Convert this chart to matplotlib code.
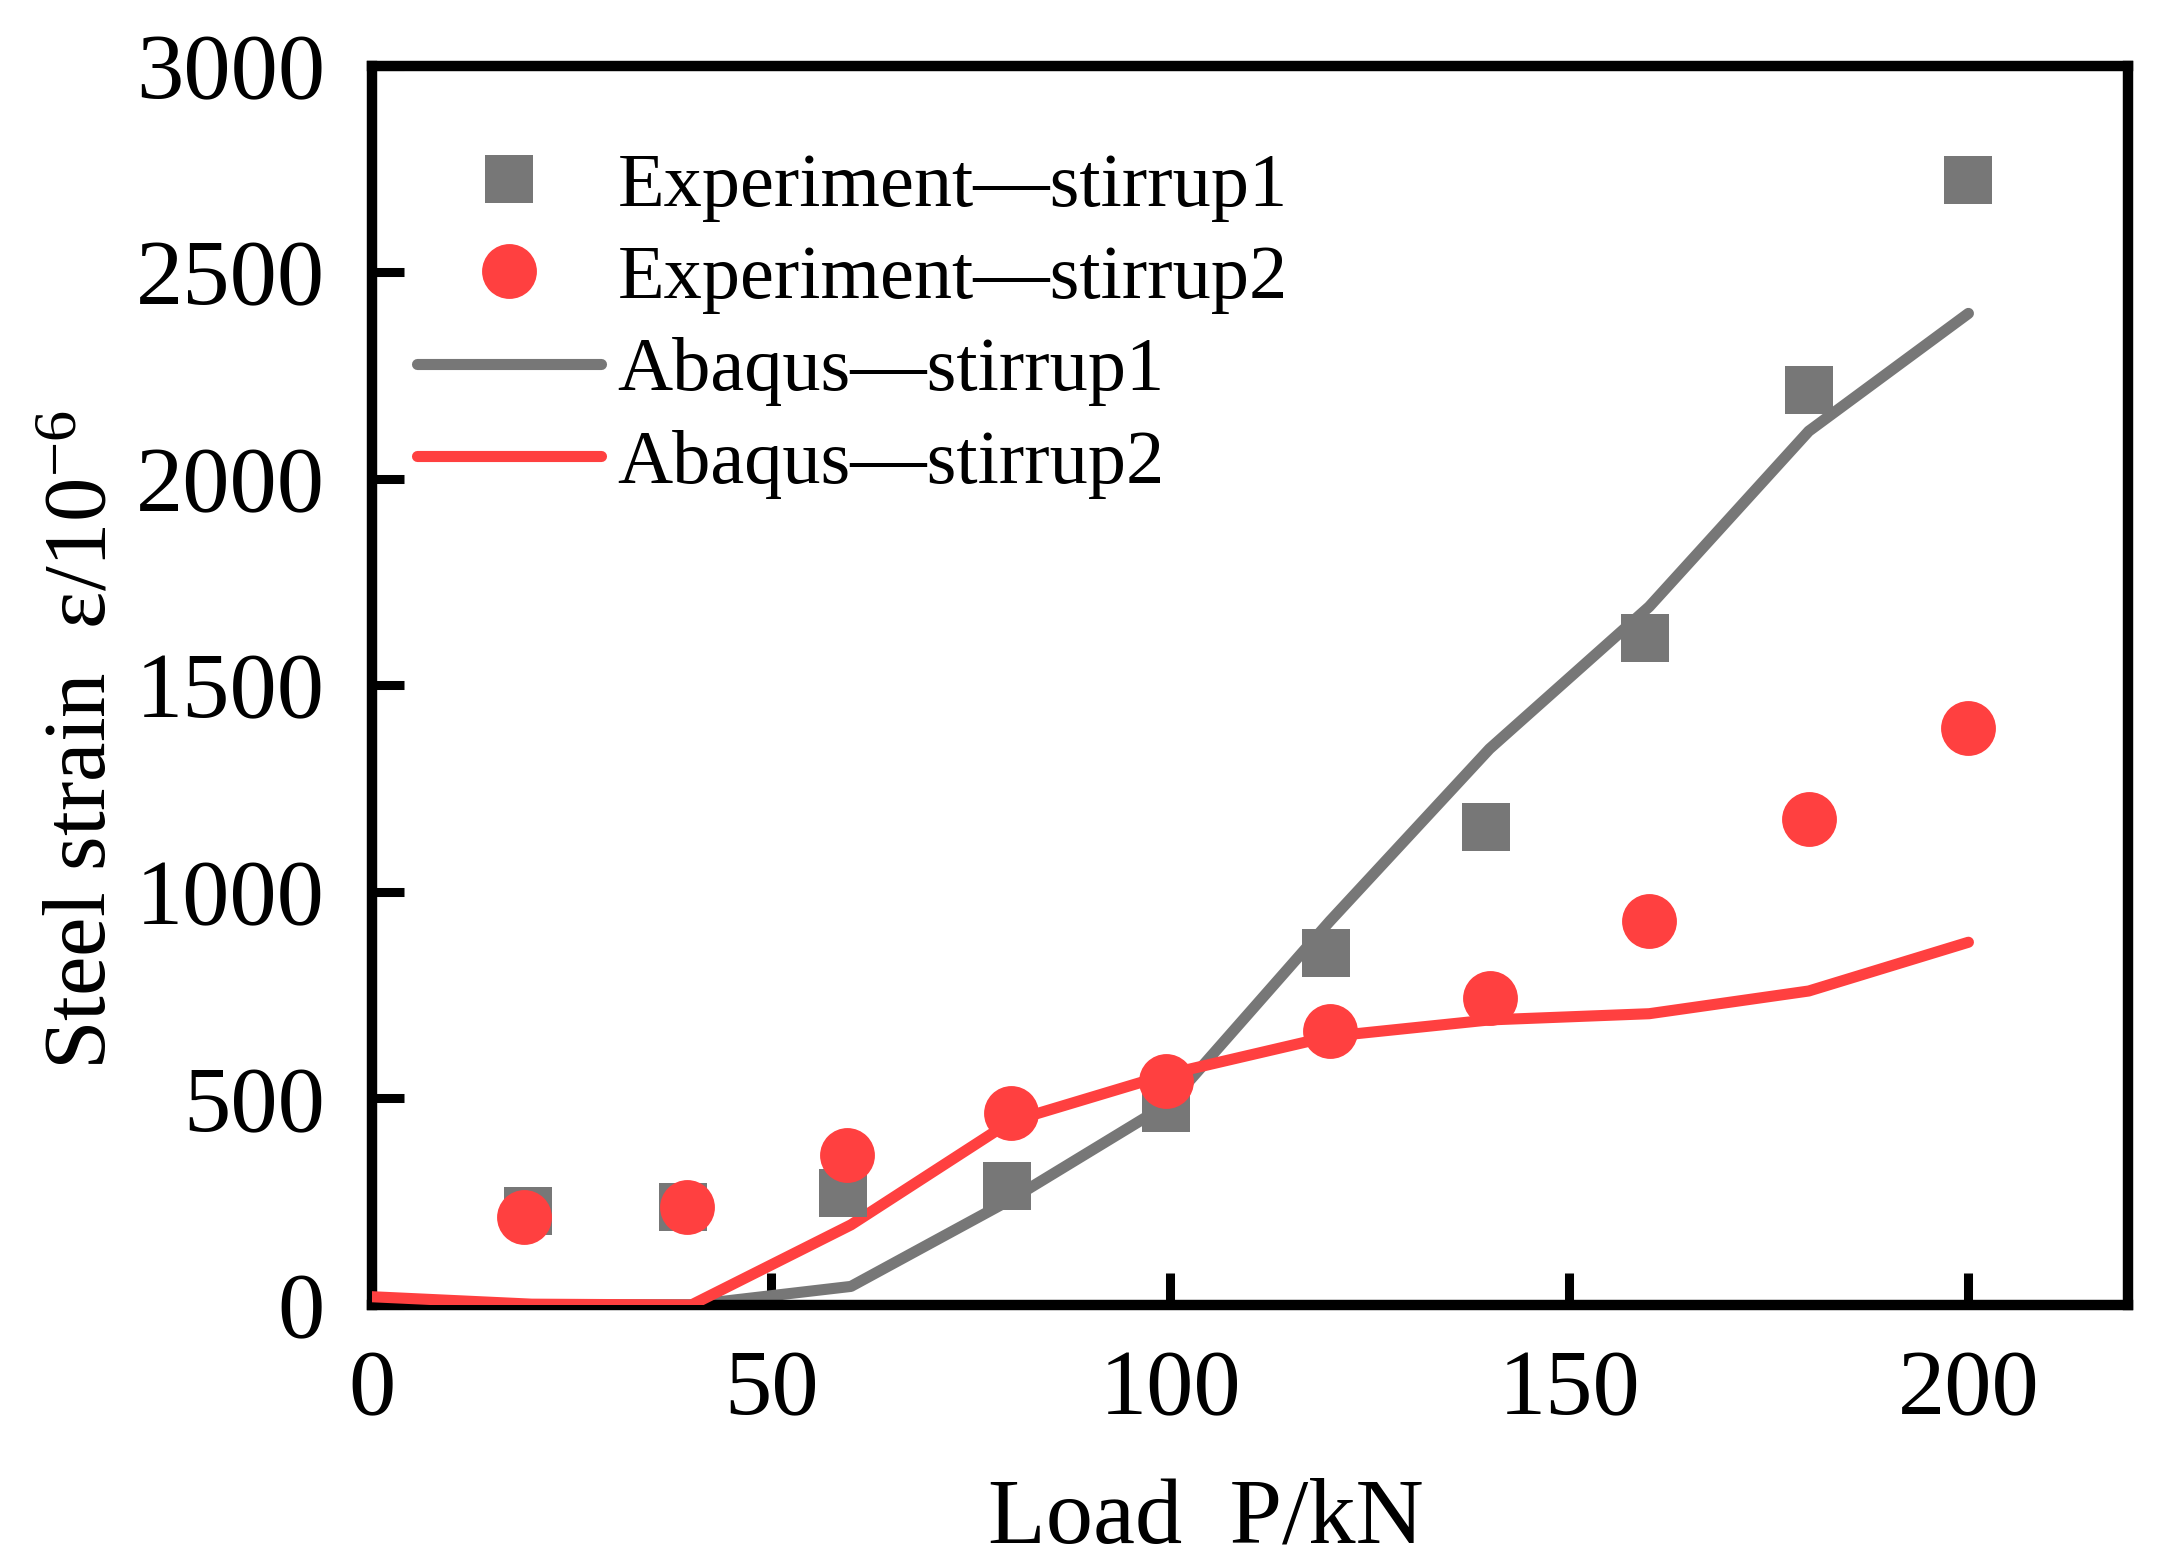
import matplotlib
matplotlib.use("Agg")
import matplotlib.pyplot as plt

plt.rcParams['font.family'] = ['Liberation Serif', 'DejaVu Serif']
plt.rcParams['mathtext.fontset'] = 'custom'
plt.rcParams['mathtext.rm'] = 'Liberation Serif'
plt.rcParams['mathtext.it'] = 'Liberation Serif:italic'

# 数据
exp_x1 = [19.5, 39, 59, 79.5, 99.5, 119.5, 139.5, 159.5, 180, 200]
exp_y1 = [227, 237, 270, 287, 478, 852, 1156, 1614, 2215, 2723]
exp_x2 = [19, 39.5, 59.5, 80, 99.5, 120, 140, 160, 180, 200]
exp_y2 = [214, 237, 364, 464, 541, 662, 742, 929, 1176, 1397]
aba_x = [0, 20, 40, 60, 80, 100, 120, 140, 160, 180, 200]
aba_y1 = [0, 0, 0, 45, 255, 490, 929, 1346, 1690, 2115, 2400]
aba_y2 = [20, 2, 0, 194, 444, 560, 650, 690, 705, 760, 878]

gray = '#777777'
red = '#ff4040'

fig = plt.figure(figsize=(21.62, 15.67), dpi=100)
ax = fig.add_axes([0.1721, 0.1672, 0.8122, 0.791])

ax.plot(aba_x, aba_y1, color=gray, lw=8, solid_capstyle='round', label='Abaqus—stirrup1', zorder=2)
ax.plot(aba_x, aba_y2, color=red, lw=8, solid_capstyle='round', label='Abaqus—stirrup2', zorder=3)
ax.plot(exp_x1, exp_y1, 's', color=gray, ms=34, mew=0, label='Experiment—stirrup1', zorder=4)
ax.plot(exp_x2, exp_y2, 'o', color=red, ms=39.5, mew=0, label='Experiment—stirrup2', zorder=5)

ax.set_xlim(0, 220)
ax.set_ylim(0, 3000)
ax.set_xticks([0, 50, 100, 150, 200])
ax.set_yticks([0, 500, 1000, 1500, 2000, 2500, 3000])
ax.tick_params(direction='in', length=23, width=6.5, labelsize=68)
ax.tick_params(axis='x', pad=32)
ax.tick_params(axis='y', pad=34)
for s in ax.spines.values():
    s.set_linewidth(7.5)

ax.set_xlabel('Load  P/kN', fontsize=68, labelpad=31, x=0.475)
ax.set_ylabel('Steel strain  ε/10$^{\\mathrm{-6}}$', fontsize=64, labelpad=9, y=0.456)

h, l = ax.get_legend_handles_labels()
order = [2, 3, 0, 1]
ax.legend([h[i] for i in order], [l[i] for i in order], loc='upper left',
          bbox_to_anchor=(0.004, 0.961), frameon=False, fontsize=55,
          handlelength=2.4, handletextpad=0.22, labelspacing=0.30, borderpad=0)

fig.savefig('out.png', dpi=100)
